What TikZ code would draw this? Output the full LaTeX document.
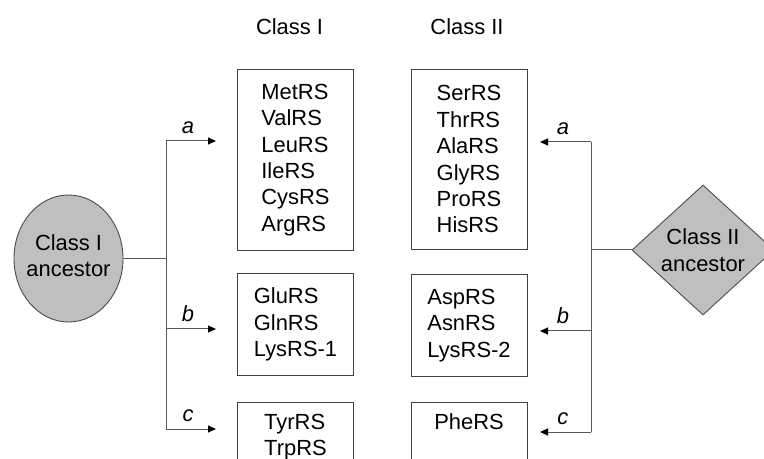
\documentclass[tikz,border=0pt]{standalone}
\usepackage{fontspec}
\setmainfont{Liberation Sans}
\usetikzlibrary{shapes.geometric,arrows.meta}

\newcommand{\rsfont}{\fontsize{22}{26.5}\selectfont}

\tikzset{
  rsbox/.style={draw=black!75, line width=0.9bp, anchor=north, align=left,
    minimum width=116bp, inner sep=0pt},
  ancestor/.style={draw=black!70, fill=black!25, line width=0.9bp, inner sep=0pt},
  feed/.style={draw=black!65, line width=1bp},
  branch/.style={feed, -{Triangle[length=8bp,width=7bp,black]}},
  brlabel/.style={font=\rsfont\itshape, inner sep=0pt, above=7bp}
}

\begin{document}
\begin{tikzpicture}[x=1bp, y=-1bp, font=\rsfont]
    \clip (0,0) rectangle (764,459);
    \fill[white] (0,0) rectangle (764,459);

    % column headings
    \node (hd1) at (289.5,27) {Class I};
    \node (hd2) at (467,27) {Class II};

    % synthetase groups, class I
    \node[rsbox, minimum height=181bp] (c1a) at (295.5,69) {MetRS\\ValRS\\LeuRS\\IleRS\\CysRS\\ArgRS};
    \node[rsbox, minimum height=102bp] (c1b) at (295.5,273) {GluRS\\GlnRS\\LysRS-1};
    \node[rsbox, minimum height=69bp] (c1c) at (295.5,402) {TyrRS\\TrpRS};

    % synthetase groups, class II
    \node[rsbox, minimum height=180bp] (c2a) at (469,69) {SerRS\\ThrRS\\AlaRS\\GlyRS\\ProRS\\HisRS};
    \node[rsbox, minimum height=102bp] (c2b) at (469,274) {AspRS\\AsnRS\\LysRS-2};
    \node[rsbox, minimum height=69bp, text depth=31bp] (c2c) at (469,402) {PheRS};

    % the two ancestors
    \node[ancestor, ellipse, minimum width=109bp, minimum height=127bp,
      label={[align=center, yshift=3bp]center:Class I\\ancestor}] (anc1) at (68.5,258.5) {};
    \node[ancestor, diamond, minimum width=142bp, minimum height=130bp,
      label={[align=center]center:Class II\\ancestor}] (anc2) at (703,250) {};

    % class I tree
    \foreach \b/\y in {a/141, b/329, c/429} {
      \coordinate (l\b) at (166,\y);
      \coordinate (l\b-tip) at (216,\y);
      \draw[branch] (l\b) -- (l\b-tip) node[brlabel, pos=0.44] {\b};
    }
    \draw[feed] (la) -- (lc);
    \draw[feed] (anc1.east) -- (anc1.east -| la);

    % class II tree
    \foreach \b/\y in {a/142, b/331, c/432} {
      \coordinate (r\b) at (591,\y);
      \coordinate (r\b-tip) at (540,\y);
      \draw[branch] (r\b) -- (r\b-tip) node[brlabel, pos=0.55] {\b};
    }
    \draw[feed] (ra) -- (rc);
    \draw[feed] (anc2.west) -- (anc2.west -| ra);
\end{tikzpicture}
\end{document}
